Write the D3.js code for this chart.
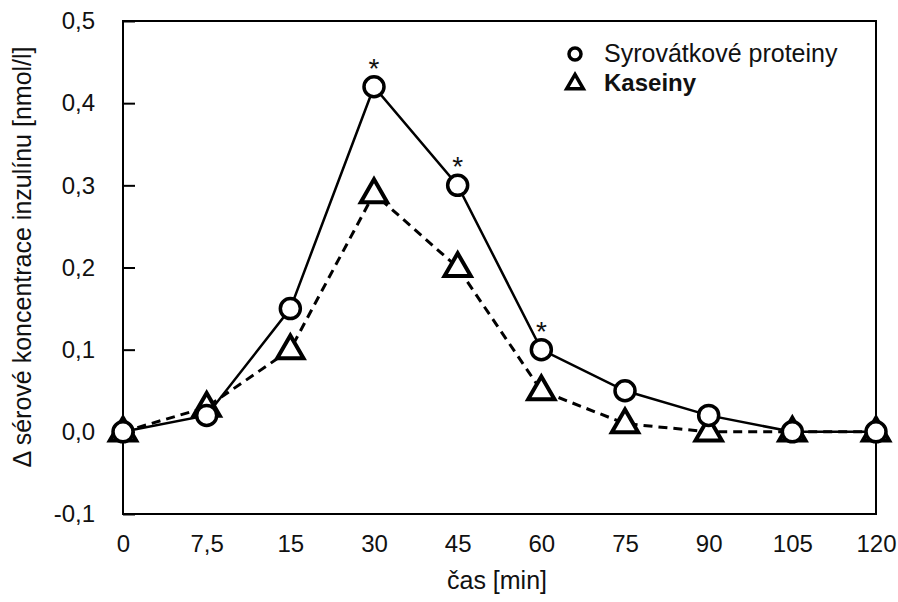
<!DOCTYPE html>
<html>
<head>
<meta charset="utf-8">
<script src="https://cdn.jsdelivr.net/npm/d3@7/dist/d3.min.js"></script>
<style>
  html, body { margin: 0; padding: 0; background: #fff; }
  svg { display: block; font-family: "Liberation Sans", Arial, Helvetica, sans-serif; }
</style>
</head>
<body>
<svg id="chart" width="898" height="602"></svg>
<script>
// Time points (min) and insulin change for the two protein sources
const times = ["0", "7,5", "15", "30", "45", "60", "75", "90", "105", "120"];
const whey = [0, 0.02, 0.15, 0.42, 0.30, 0.10, 0.05, 0.02, 0, 0];
const casein = [0, 0.03, 0.10, 0.29, 0.20, 0.05, 0.01, 0.0, 0, 0];
const significant = ["30", "45", "60"];
const yTicks = [-0.1, 0, 0.1, 0.2, 0.3, 0.4, 0.5];
const seriesNames = ["Syrovátkové proteiny", "Kaseiny"];

const svg = d3.select("#chart");
const m = { left: 123, right: 876, top: 21, bottom: 514 };
const FONT = "Liberation Sans, Arial, sans-serif";

const x = d3.scalePoint().domain(times).range([m.left, m.right]).padding(0);
const y = d3.scaleLinear().domain([-0.1, 0.5]).range([m.bottom, m.top]);
const fmt = v => d3.format(".1f")(v).replace(".", ",").replace("\u2212", "-");

// Y axis: inward ticks, comma decimals
const yAxis = svg.append("g")
  .attr("transform", `translate(${m.left},0)`)
  .call(d3.axisLeft(y).tickValues(yTicks).tickFormat(fmt).tickSizeInner(-12).tickSizeOuter(0).tickPadding(28));
yAxis.select(".domain").remove();
yAxis.selectAll(".tick line").attr("stroke", "#000").attr("stroke-width", 2);
yAxis.selectAll(".tick text").attr("font-size", 24).attr("fill", "#111").attr("font-family", FONT);

// X axis: labels only
const xAxis = svg.append("g")
  .attr("transform", `translate(0,${m.bottom})`)
  .call(d3.axisBottom(x).tickSize(0).tickPadding(21));
xAxis.select(".domain").remove();
xAxis.selectAll(".tick text").attr("font-size", 24).attr("fill", "#111").attr("font-family", FONT);

// Plot frame
svg.append("rect")
  .attr("x", m.left).attr("y", m.top)
  .attr("width", m.right - m.left).attr("height", m.bottom - m.top)
  .attr("fill", "none").attr("stroke", "#000").attr("stroke-width", 2);

// Axis titles
svg.append("text")
  .attr("x", 497).attr("y", 589)
  .attr("text-anchor", "middle").attr("font-size", 25).attr("fill", "#111")
  .text("čas [min]");
svg.append("text")
  .attr("transform", "translate(31,257) rotate(-90)")
  .attr("text-anchor", "middle").attr("font-size", 25).attr("fill", "#111")
  .text("Δ sérové koncentrace inzulínu [nmol/l]");

const line = d3.line().x((d, i) => x(times[i])).y(d => y(d));
const tri = d3.symbol().type(d3.symbolTriangle).size(300);

// Casein series: dashed line with open triangles
svg.append("path").datum(casein)
  .attr("d", line).attr("fill", "none").attr("stroke", "#000")
  .attr("stroke-width", 3).attr("stroke-dasharray", "9,6");
svg.selectAll(".tri").data(casein).enter().append("path")
  .attr("class", "tri")
  .attr("transform", (d, i) => `translate(${x(times[i])},${y(d) + 1})`)
  .attr("d", tri).attr("fill", "#fff").attr("stroke", "#000").attr("stroke-width", 4)
  .attr("stroke-linejoin", "miter");

// Whey series: solid line with open circles
svg.append("path").datum(whey)
  .attr("d", line).attr("fill", "none").attr("stroke", "#000").attr("stroke-width", 2.5);
svg.selectAll(".circ").data(whey).enter().append("circle")
  .attr("class", "circ")
  .attr("cx", (d, i) => x(times[i])).attr("cy", d => y(d)).attr("r", 10)
  .attr("fill", "#fff").attr("stroke", "#000").attr("stroke-width", 3.5);

// Significance markers
svg.selectAll(".star").data(significant).enter().append("text")
  .attr("class", "star")
  .attr("x", d => x(d))
  .attr("y", d => y(whey[times.indexOf(d)]) - 9)
  .attr("text-anchor", "middle").attr("font-size", 28).attr("fill", "#111")
  .text("*");

// Legend
const leg = svg.append("g");
leg.append("circle").attr("cx", 575).attr("cy", 54).attr("r", 6)
  .attr("fill", "#fff").attr("stroke", "#000").attr("stroke-width", 3.5);
leg.append("text").attr("x", 604).attr("y", 62).attr("font-size", 25).attr("fill", "#111")
  .text(seriesNames[0]);
leg.append("path").attr("transform", "translate(575,84)")
  .attr("d", d3.symbol().type(d3.symbolTriangle).size(120))
  .attr("fill", "#fff").attr("stroke", "#000").attr("stroke-width", 3.5);
leg.append("text").attr("x", 604).attr("y", 91).attr("font-size", 24).attr("font-weight", "bold")
  .attr("fill", "#111").text(seriesNames[1]);
</script>
</body>
</html>
